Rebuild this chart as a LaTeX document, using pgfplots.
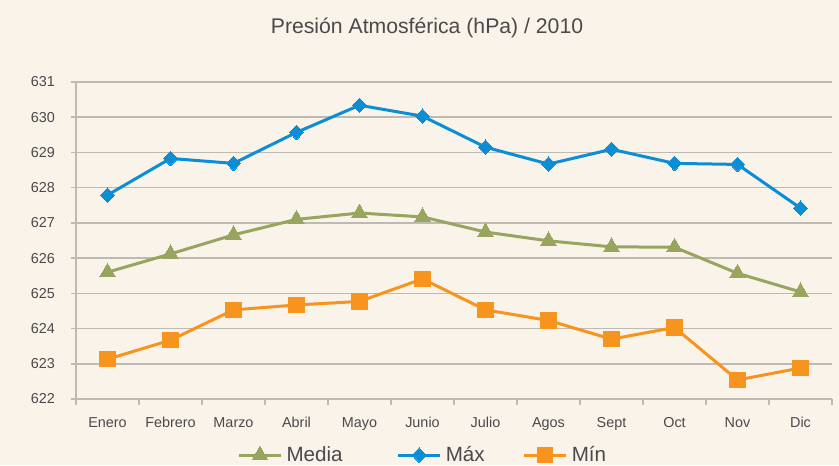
\documentclass[border=0pt]{standalone}
\usepackage{pgfplots}
\pgfplotsset{compat=1.18}
\usepackage{fontspec}
\setmainfont{Liberation Sans}
\definecolor{bg}{HTML}{F9F3EA}
\definecolor{cblue}{HTML}{0C8ED6}
\definecolor{cgreen}{HTML}{98A55F}
\definecolor{corange}{HTML}{F7941E}
\definecolor{cgrid}{HTML}{BDBAB4}
\definecolor{ctext}{HTML}{4A4A4A}
\begin{document}
\begin{tikzpicture}
\fill[bg] (-38pt,-33pt) rectangle (381.5pt,199.5pt);
\begin{axis}[
  at={(0pt,0pt)}, anchor=south west,
  scale only axis, width=378pt, height=158.5pt,
  xmin=-0.5, xmax=11.5, ymin=622, ymax=631,
  xtick={0,...,11},
  xticklabels={Enero,Febrero,Marzo,Abril,Mayo,Junio,Julio,Agos,Sept,Oct,Nov,Dic},
  minor xtick={-0.5,0.5,...,11.5},
  ytick={622,...,631},
  axis x line*=bottom, axis y line*=left,
  axis line style={-, draw=cgrid, line width=0.8pt},
  tick align=outside,
  major tick length=2.5pt, minor tick length=3pt,
  major x tick style={draw=none},
  minor x tick style={draw=cgrid, line width=0.8pt},
  major y tick style={draw=cgrid, line width=0.8pt},
  ymajorgrids, grid style={draw=cgrid, line width=0.8pt},
  /pgf/number format/assume math mode=true,
  yticklabel={\pgfmathprintnumber[1000 sep={}]{\tick}},
  ticklabel style={font=\fontsize{7.2}{8}\selectfont, text=ctext},
  xticklabel style={yshift=-2.5pt},
  yticklabel style={xshift=-4pt},
  legend columns=3,
  legend style={at={(0.460,-0.177)}, anchor=center, draw=none, fill=none,
    font=\fontsize{10.3}{12}\selectfont, text=ctext,
    /tikz/column 2/.style={column sep=25pt},
    /tikz/column 4/.style={column sep=17pt}},
  legend image code/.code={\draw[mark repeat=2,mark phase=2] plot coordinates {(0cm,0cm)(0.37cm,0cm)(0.74cm,0cm)};},
  line width=1.5pt,
]
\addplot[cgreen, mark=triangle*, mark size=4.5pt, mark options={line width=0pt}] coordinates {
(0,625.60) (1,626.12) (2,626.66) (3,627.10) (4,627.28) (5,627.17)
(6,626.74) (7,626.49) (8,626.32) (9,626.31) (10,625.57) (11,625.04)};
\addlegendentry{Media}
\addplot[cblue, mark=diamond*, mark size=3.6pt, mark options={line width=0pt, xscale=1.3}] coordinates {
(0,627.79) (1,628.83) (2,628.69) (3,629.57) (4,630.34) (5,630.03)
(6,629.15) (7,628.67) (8,629.09) (9,628.69) (10,628.66) (11,627.42)};
\addlegendentry{Máx}
\addplot[corange, mark=square*, mark size=3.8pt, mark options={line width=0pt}] coordinates {
(0,623.13) (1,623.67) (2,624.53) (3,624.67) (4,624.77) (5,625.41)
(6,624.53) (7,624.23) (8,623.70) (9,624.03) (10,622.54) (11,622.88)};
\addlegendentry{Mín}
\end{axis}
\node[font=\fontsize{10.6}{12}\selectfont, text=ctext] at (175.5pt,185.5pt) {Presión Atmosférica (hPa) / 2010};
\pgfresetboundingbox
\useasboundingbox (-38pt,-33pt) rectangle (381.5pt,199.5pt);
\end{tikzpicture}
\end{document}
